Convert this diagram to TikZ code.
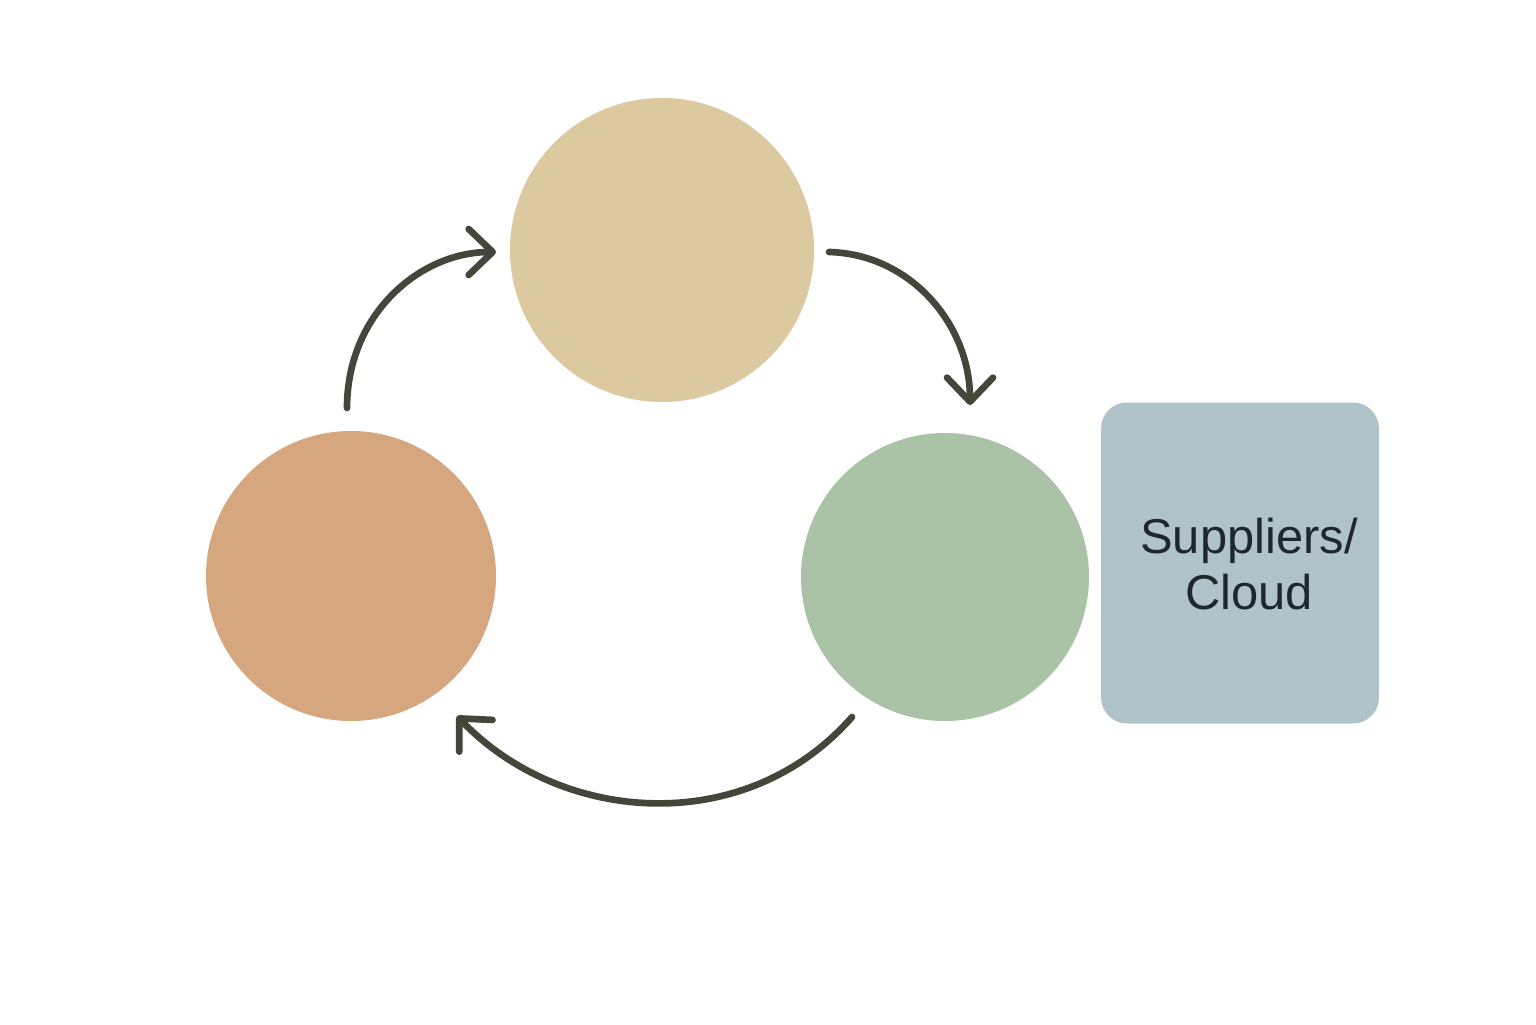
\documentclass[tikz,border=0pt]{standalone}
\usepackage{fontspec}
\setmainfont{Liberation Sans}
\usetikzlibrary{arrows.meta}
\definecolor{topc}{HTML}{DCC9A0}
\definecolor{leftc}{HTML}{D6A67F}
\definecolor{rightc}{HTML}{AAC3A6}
\definecolor{boxc}{HTML}{B0C3C8}
\definecolor{arrc}{HTML}{45463A}
\definecolor{txtc}{HTML}{1E282C}
\tikzset{
  disc/.style={circle, draw=none, inner sep=0pt},
  flow/.style={draw=arrc, line width=1.9pt, line cap=round, line join=round,
    -{Straight Barb[length=2.4mm,width=4.6mm,line width=1.9pt,round]}},
  supbox/.style={draw=none, fill=boxc, rounded corners=0.26cm, minimum width=2.78cm, minimum height=3.21cm, inner sep=0pt},
  lbl/.style={text=txtc, font=\fontsize{13.9pt}{15.9pt}\selectfont, align=center}
}
\begin{document}
\begin{tikzpicture}
\useasboundingbox (0,0) rectangle (15.36,10.24);
\fill[white] (0,0) rectangle (15.36,10.24);
\node[disc, fill=topc, minimum size=3.04cm] (top) at (6.62,7.74) {};
\node[disc, fill=leftc, minimum size=2.90cm] (left) at (3.51,4.48) {};
\node[disc, fill=rightc, minimum size=2.88cm] (right) at (9.45,4.47) {};
\node[supbox] (sup) at (12.40,4.61) {};
\node[lbl] (suptext) at (12.49,4.60) {Suppliers/\\Cloud};
\coordinate (a1s) at (3.47,6.16);
\coordinate (a1e) at (4.96,7.72);
\coordinate (a2s) at (8.29,7.72);
\coordinate (a2e) at (9.70,6.19);
\coordinate (a3s) at (8.52,3.07);
\coordinate (a3e) at (4.57,3.08);
\draw[flow] (a1s) .. controls (3.47,7.1) and (4.2,7.72) .. (a1e);
\draw[flow] (a2s) .. controls (9.1,7.7) and (9.7,7.0) .. (a2e);
\draw[flow] (a3s) .. controls (7.45,1.85) and (5.6,2.0) .. (a3e);
\end{tikzpicture}
\end{document}
